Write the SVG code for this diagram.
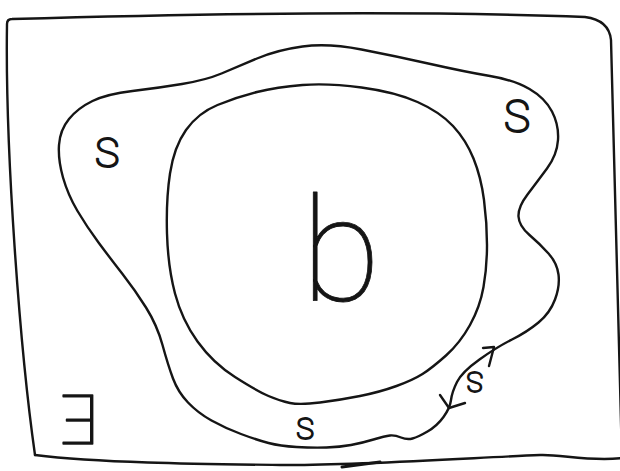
<svg xmlns="http://www.w3.org/2000/svg" width="620" height="471" viewBox="0 0 620 471">
<style>
.ln{fill:none;stroke:#151515;stroke-width:2.4;stroke-linecap:round;stroke-linejoin:round}
.lt{font-family:Roboto,"Liberation Sans",sans-serif;font-weight:100;fill:#151515;stroke:#151515;text-anchor:middle;stroke-linejoin:round}
</style>
<rect width="620" height="471" fill="#ffffff"/>
<g id="frame">
<path class="ln" d="M35,455 C20,350 5,150 7,24 Q7,19 12,19 C150,15 400,10 585,17 Q609,20 611,40 L622,460"/>
<path class="ln" d="M622,458 C590,462 560,454 540,455 C470,458 350,466 280,465 C200,464 100,463 35,455"/>
<path class="ln" d="M342,467 L380,462" style="stroke-width:3"/>
</g>
<g id="outer-region">
<path class="ln" d="M302.5,46.5 Q328,43 361.5,49.5 Q395,56 430.5,64 Q466,72 490,76 Q514,80 529.5,89 Q545,98 552,111.5 Q559,125 558,140 Q557,155 547,168.5 Q537,182 527.5,194.5 Q518,207 518.5,216.5 Q519,226 529.5,235 Q540,244 548.5,253.5 Q557,263 558.5,274.5 Q560,286 555,299.5 Q550,313 538.5,322.5 Q527,332 512,339.5 Q497,347 479.5,359.5 Q462,372 457,382 Q452,392 451,400 Q450,408 443.5,417 Q437,426 427.5,431.5 Q418,437 412.5,438.5 Q407,440 401,437.5 Q395,435 390,435.5 Q385,436 373.5,439.5 Q362,443 351,445 Q340,447 326.5,447.5 Q313,448 296.5,447 Q280,446 268.5,443 Q257,440 241,434 Q225,428 211.5,420.5 Q198,413 188,402.5 Q178,392 173,378.5 Q168,365 162.5,345 Q157,325 146,307.5 Q135,290 122.5,274 Q110,258 98.5,242.5 Q87,227 77.5,211 Q68,195 63,177.5 Q58,160 59,145 Q60,130 69,119 Q78,108 92.5,101 Q107,94 132.5,91 Q158,88 182,84 Q206,80 221.5,73.5 Q237,67 257,58.5 Q277,50 302.5,46.5 Z"/>
</g>
<g id="inner-region">
<path class="ln" d="M302.5,85 Q328,83 361.5,87.5 Q395,92 417.5,102 Q440,112 453,126 Q466,140 473.5,158.5 Q481,177 484,200 Q487,223 487,245 Q487,267 483.5,287 Q480,307 470,325 Q460,343 446,355.5 Q432,368 422.5,374 Q413,380 396.5,386 Q380,392 360,396 Q340,400 320,402.5 Q300,405 290,403 Q280,401 268.5,396 Q257,391 235,377 Q213,363 197.5,341.5 Q182,320 175,293.5 Q168,267 167,233.5 Q166,200 170,173.5 Q174,147 186,130 Q198,113 217.5,105 Q237,97 257,92 Q277,87 302.5,85 Z"/>
</g>
<g id="connectors">
<path class="ln" d="M483,348 L494,347 L489,366"/>
<path class="ln" d="M440,395 L449,408 L465,403"/>
</g>
<g id="labels">
<text class="lt" x="107" y="167" font-size="41" stroke-width="2">S</text>
<text class="lt" x="517" y="131.5" font-size="44" stroke-width="2">S</text>
<text class="lt" x="305" y="438.5" font-size="30" stroke-width="1.8">S</text>
<text class="lt" x="475" y="392" font-size="28" stroke-width="1.8" transform="rotate(180 475 382)">S</text>
<text class="lt" x="80" y="442" font-size="68" stroke-width="1.6" transform="rotate(180 80 418.5)">E</text>
<text class="lt" x="341" y="301" font-size="145" stroke-width="0.8">b</text>
</g>
</svg>
